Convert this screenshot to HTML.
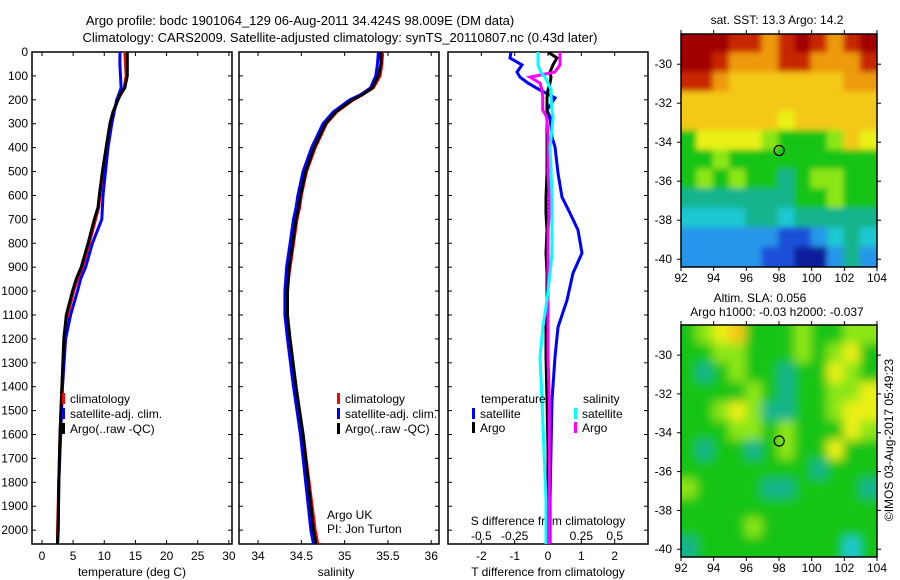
<!DOCTYPE html>
<html><head><meta charset="utf-8"><style>
body{margin:0;background:#fff;}
svg{display:block;font-family:"Liberation Sans",sans-serif;}
text{fill:#000;}
</style></head><body>
<svg id="s" width="900" height="580" viewBox="0 0 900 580">
<defs>
<clipPath id="c1"><rect x="32" y="52" width="200" height="492"/></clipPath>
<clipPath id="c2"><rect x="239" y="52" width="200" height="492"/></clipPath>
<clipPath id="c3"><rect x="448" y="52" width="200" height="492"/></clipPath>
<clipPath id="m1c"><rect x="681" y="34" width="196" height="233"/></clipPath>
<clipPath id="m2c"><rect x="681" y="325" width="196" height="232"/></clipPath>
<filter id="bl" filterUnits="userSpaceOnUse" x="660" y="300" width="240" height="280"><feGaussianBlur stdDeviation="5"/></filter>
<filter id="bl2" filterUnits="userSpaceOnUse" x="660" y="10" width="240" height="280"><feGaussianBlur stdDeviation="3"/></filter>
</defs>
<text x="300" y="25" text-anchor="middle" font-size="13">Argo profile: bodc 1901064_129 06-Aug-2011 34.424S 98.009E (DM data)</text>
<text x="340" y="42" text-anchor="middle" font-size="13">Climatology: CARS2009. Satellite-adjusted climatology: synTS_20110807.nc (0.43d later)</text>
<g id="g"></g>
</svg>
<script>
// depth levels (m)
const depthsP = [0,50,100,150,180,200,250,300,400,500,600,650,700,800,900,950,1000,1100,1200,1400,1600,1800,2000,2058];
const argoT = [13.7,13.7,13.7,13.3,12.5,12.2,11.4,10.9,10.3,9.7,9.2,9.0,8.4,7.4,6.3,5.5,4.9,3.9,3.5,3.2,2.9,2.7,2.6,2.5];
const climT = [13.3,13.4,13.5,13.2,12.6,12.2,11.5,11.0,10.4,9.8,9.3,9.1,8.6,7.6,6.5,5.7,5.1,4.1,3.6,3.2,2.9,2.7,2.5,2.5];
const satT  = [12.5,12.5,12.6,12.7,12.3,12.0,11.6,11.2,10.6,10.2,9.8,9.7,9.6,8.1,7.0,6.2,5.7,4.6,3.8,3.3,3.0,2.7,2.6,2.5];
const argoS = [35.42,35.42,35.39,35.32,35.2,35.09,34.9,34.78,34.65,34.55,34.49,34.47,34.44,34.4,34.36,34.35,34.34,34.34,34.37,34.44,34.52,34.58,34.64,34.67];
const climS = [35.44,35.43,35.41,35.33,35.2,35.1,34.91,34.79,34.66,34.56,34.5,34.48,34.45,34.41,34.37,34.35,34.34,34.33,34.35,34.43,34.52,34.59,34.66,34.69];
const satS  = [35.39,35.38,35.36,35.3,35.18,35.06,34.87,34.75,34.62,34.52,34.46,34.44,34.41,34.37,34.33,34.32,34.31,34.31,34.34,34.41,34.49,34.55,34.61,34.64];
const depthsD = [0,25,54,84,105,130,159,192,243,272,356,397,506,607,674,745,841,925,1038,1151,1276,1456,1665,1874,2058];
const satTd = [-1.11,-1.14,-0.78,-0.93,-0.84,-0.60,-0.24,0.21,-0.03,0.06,0.12,0.21,0.30,0.42,0.66,0.90,1.02,0.75,0.57,0.30,0.21,0.12,0.09,0.06,0.06];
const argoTd = [0,0.27,0.15,0.06,0.09,0.06,0.0,-0.03,-0.03,-0.03,-0.03,-0.03,-0.03,-0.06,-0.06,-0.03,-0.06,-0.03,-0.03,-0.06,-0.06,-0.03,0,0,0];
const argoSd = [0.09,0.09,0.09,0.05,-0.135,-0.06,-0.045,-0.04,-0.04,-0.01,0,0,0,0.01,0.01,0,0,0,0,0,0,0.01,0.01,0.01,0.01];
const satSd = [-0.075,-0.075,-0.075,-0.053,-0.023,0,0.023,0.023,0.03,0.038,0.023,0.015,0.023,0.03,0.03,0.03,0.03,0.015,-0.008,-0.038,-0.06,-0.045,-0.03,-0.015,-0.015];
const depthTicks = [0,100,200,300,400,500,600,700,800,900,1000,1100,1200,1300,1400,1500,1600,1700,1800,1900,2000];
const tTicks = [0,5,10,15,20,25,30];
const sTicks = [34,34.5,35,35.5,36];
const dTTicks = [-2,-1,0,1,2];
const dSTicks = [-0.5,-0.25,0,0.25,0.5];
const dSLabels = ["-0.5","-0.25","0","0.25","0.5"];
const lonTicks = [92,94,96,98,100,102,104];
const latTicks = [-30,-32,-34,-36,-38,-40];
const floatLon = 98.009, floatLat = -34.424;
// SST grid (colour index), rows north->south, cols west->east
const sstGrid = [
[11,11,11,10,10,9,10,11,10,9,10,11],
[11,11,10,9,9,9,10,10,9,9,9,10],
[10,10,9,8,8,8,8,8,8,8,9,9],
[8,8,8,8,8,8,8,8,8,8,8,8],
[8,8,8,8,8,8,7,8,8,8,8,8],
[5,7,7,7,7,6,5,5,5,6,8,7],
[5,5,6,5,5,5,5,5,5,5,5,5],
[5,6,5,6,5,5,4,5,6,6,5,5],
[4,4,4,4,4,4,4,5,5,6,5,5],
[3,3,3,3,4,4,3,4,4,4,4,4],
[2,2,2,2,2,2,1,1,2,3,4,3],
[2,2,2,2,2,1,1,0,0,2,4,2]];
const slaGrid = [
[5,6,7,8,5,5,5,6,5,5,6,6],
[5,5,6,6,5,5,5,6,5,6,7,5],
[5,4,5,6,5,5,4,5,5,7,6,5],
[5,5,5,5,6,5,4,5,5,6,6,7],
[5,5,6,7,6,4,4,5,5,6,7,7],
[5,5,5,6,6,5,6,5,5,5,7,6],
[5,4,5,5,4,5,6,5,5,7,5,5],
[5,5,5,5,5,5,5,5,4,5,5,5],
[6,5,5,5,5,4,4,5,5,5,5,4],
[5,5,5,5,5,5,5,5,5,5,5,5],
[5,5,5,5,6,5,5,5,5,5,5,5],
[4,5,5,5,5,5,5,5,5,5,3,5]];
const palette = ["#0a1e9a","#1e50d8","#2896ea","#1ec8d2","#14b48c","#18c418","#8ce614","#eaf014","#f4c818","#ee9a08","#c82800","#a00000"];

const NS="http://www.w3.org/2000/svg";
const G=document.getElementById('g');
function el(tag,attrs,parent){const e=document.createElementNS(NS,tag);for(const k in attrs)e.setAttribute(k,attrs[k]);(parent||G).appendChild(e);return e;}
function txt(x,y,s,size,anchor,parent){const t=el('text',{x:x,y:y,'font-size':size||12,'text-anchor':anchor||'middle'},parent);t.textContent=s;return t;}
const yTop=52,yBot=544,dMax=2058;
const yD=d=>yTop+d*(yBot-yTop)/dMax;
const lin=(v0,v1,p0,p1)=>v=>p0+(v-v0)*(p1-p0)/(v1-v0);
const xT=lin(-1.6,30.5,32,232);
const xS=lin(33.78,36.09,239,439);
const xDT=lin(-3,3,448,648);
const xDS=lin(-0.75,0.75,448,648);

function frame(x0,name){
  const r=el('rect',{x:x0,y:yTop,width:200,height:yBot-yTop,fill:'none',stroke:'#000','stroke-width':1.5});
  
  
  depthTicks.forEach(d=>{el('line',{x1:x0,x2:x0+4,y1:yD(d),y2:yD(d),stroke:'#000'});el('line',{x1:x0+196,x2:x0+200,y1:yD(d),y2:yD(d),stroke:'#000'});});
}
function line(xs,ds,xf,color,w,clip,name){
  const p=el('polyline',{points:xs.map((v,i)=>xf(v).toFixed(1)+','+yD(ds[i]).toFixed(1)).join(' '),fill:'none',stroke:color,'stroke-width':w,'clip-path':'url(#'+clip+')'});
  
  
}
// panel 1
frame(32,'temperature-panel');
depthTicks.forEach(d=>{const t=txt(28,yD(d)+4,String(d),12,'end');});
tTicks.forEach(v=>{el('line',{x1:xT(v),x2:xT(v),y1:yBot,y2:yBot-4,stroke:'#000'});el('line',{x1:xT(v),x2:xT(v),y1:yTop,y2:yTop+4,stroke:'#000'});const t=txt(xT(v),560,String(v));});
let t1=txt(132,576,'temperature (deg C)');
line(climT,depthsP,xT,'#f00',3,'c1','climatology-temperature-line');
line(satT,depthsP,xT,'#00f',3,'c1','satellite-temperature-line');
line(argoT,depthsP,xT,'#000',3,'c1','argo-temperature-line');
function legend(x,y,color,label,name){el('rect',{x:x,y:y-10,width:3,height:11,fill:color});const t=txt(x+8,y,label,12,'start');}
legend(62,403,'#f00','climatology','legend-climatology');
legend(62,418,'#00f','satellite-adj. clim.','legend-satellite');
legend(62,433,'#000','Argo(..raw -QC)','legend-argo');
// panel 2
frame(239,'salinity-panel');
sTicks.forEach(v=>{el('line',{x1:xS(v),x2:xS(v),y1:yBot,y2:yBot-4,stroke:'#000'});el('line',{x1:xS(v),x2:xS(v),y1:yTop,y2:yTop+4,stroke:'#000'});const t=txt(xS(v),560,String(v));});
let t2=txt(336,576,'salinity');
line(climS,depthsP,xS,'#f00',3,'c2','climatology-salinity-line');
line(satS,depthsP,xS,'#00f',3,'c2','satellite-salinity-line');
line(argoS,depthsP,xS,'#000',3,'c2','argo-salinity-line');
legend(337,403,'#f00','climatology','legend-climatology-2');
legend(337,418,'#00f','satellite-adj. clim.','legend-satellite-2');
legend(337,433,'#000','Argo(..raw -QC)','legend-argo-2');
let a1=txt(327,519,'Argo UK',12,'start');
let a2=txt(327,533,'PI: Jon Turton',12,'start');
// panel 3
frame(448,'difference-panel');
dTTicks.forEach(v=>{el('line',{x1:xDT(v),x2:xDT(v),y1:yBot,y2:yBot-4,stroke:'#000'});el('line',{x1:xDT(v),x2:xDT(v),y1:yTop,y2:yTop+4,stroke:'#000'});const t=txt(xDT(v),560,String(v));});
dSTicks.forEach((v,i)=>{const t=txt(xDS(v),540,dSLabels[i]);});
let t3=txt(548,525,'S difference from climatology');
let t4=txt(548,576,'T difference from climatology');
el('line',{x1:xDT(0),x2:xDT(0),y1:yD(200),y2:yD(1300),stroke:'#000','stroke-dasharray':'1,3'});
line(satTd,depthsD,xDT,'#00f',3,'c3','satellite-t-difference-line');
line(argoTd,depthsD,xDT,'#000',3,'c3','argo-t-difference-line');
line(argoSd,depthsD,xDS,'#f0f',3,'c3','argo-s-difference-line');
line(satSd,depthsD,xDS,'#0ff',3,'c3','satellite-s-difference-line');
let t5=txt(481,403,'temperature',12,'start');
legend(472,418,'#00f','satellite','legend-t-satellite');
legend(472,432,'#000','Argo','legend-t-argo');
let t6=txt(583,403,'salinity',12,'start');
legend(574,418,'#0ff','satellite','legend-s-satellite');
legend(574,432,'#f0f','Argo','legend-s-argo');
// maps
function map(grid,y0,h,clip,filt,name){
  const xL=lin(92,104,681,877), yL=lin(-28.45,-40.4,y0,y0+h);
  const g=el('g',{'clip-path':'url(#'+clip+')'});
  
  
  const gi=el('g',{filter:'url(#'+filt+')'},g);
  const nr=grid.length,nc=grid[0].length;
  // edge padding so blur does not fade at borders
  el('rect',{x:670,y:y0-12,width:220,height:h+24,fill:palette[grid[nr-1][0]]},gi);
  grid.forEach((row,r)=>row.forEach((v,c)=>{
    let c0=xL(92+c*12/nc),c1=xL(92+(c+1)*12/nc);
    let r0=yL(-28.45-r*11.95/nr),r1=yL(-28.45-(r+1)*11.95/nr);
    if(c===0)c0-=12; if(c===nc-1)c1+=12; if(r===0)r0-=12; if(r===nr-1)r1+=12;
    const cell=el('rect',{x:c0-1,y:r0-1,width:c1-c0+2,height:r1-r0+2,fill:palette[v]},gi);
    
  }));
  el('rect',{x:681,y:y0,width:196,height:h,fill:'none',stroke:'#000','stroke-width':1.5});
  lonTicks.forEach(v=>{el('line',{x1:xL(v),x2:xL(v),y1:y0+h,y2:y0+h+4,stroke:'#000'});el('line',{x1:xL(v),x2:xL(v),y1:y0,y2:y0-4,stroke:'#000'});const t=txt(xL(v),y0+h+15,String(v));});
  latTicks.forEach(v=>{el('line',{x1:877,x2:881,y1:yL(v),y2:yL(v),stroke:'#000'});el('line',{x1:677,x2:681,y1:yL(v),y2:yL(v),stroke:'#000'});const t=txt(672,yL(v)+4,String(v),12,'end');});
  const m=el('circle',{cx:xL(floatLon),cy:yL(floatLat),r:5,fill:'none',stroke:'#000','stroke-width':1.2});
  
  
}
map(sstGrid,34,233,'m1c','bl2','sst-map');
map(slaGrid,325,232,'m2c','bl','sla-map');
let m1=txt(777,24,'sat. SST: 13.3 Argo: 14.2');
let m2=txt(760,302,'Altim. SLA: 0.056');
let m3=txt(777,316,'Argo h1000: -0.03 h2000: -0.037');
let cp=txt(0,0,'©IMOS 03-Aug-2017 05:49:23');cp.setAttribute('transform','translate(893,440) rotate(-90)');


</script>
</body></html>
